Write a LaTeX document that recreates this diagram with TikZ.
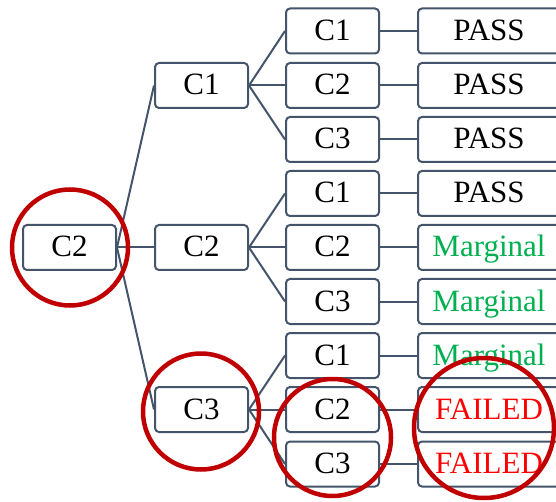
\documentclass[tikz,border=0pt]{standalone}
\usepackage{fontspec}
\setmainfont{Liberation Serif}
\definecolor{slate}{HTML}{44546A}
\definecolor{okgreen}{HTML}{00B050}
\definecolor{failred}{HTML}{FF0000}
\definecolor{ringred}{HTML}{C00000}
\begin{document}
\begin{tikzpicture}[x=1pt,y=-1pt,
  box/.style={draw=slate, line width=2pt, rounded corners=4pt, fill=white, inner sep=0pt,
    minimum width=93pt, minimum height=45pt, text height=22pt, text depth=3pt,
    font=\fontsize{31}{31}\selectfont},
  wide/.style={box, minimum width=142pt},
  link/.style={draw=slate, line width=2pt},
  ring/.style={draw=ringred, line width=4.5pt},
  good/.style={text=okgreen},
  bad/.style={text=failred}]
\useasboundingbox (0,0) rectangle (556,502);
% level 0
\node[box] (root) at (69.5,247.5) {C2};
% level 1
\node[box] (a1) at (201.5,85.5) {C1};
\node[box] (a2) at (201.5,247.5) {C2};
\node[box] (a3) at (201.5,409.5) {C3};
% level 2
\node[box] (b1) at (332.5,31) {C1};
\node[box] (b2) at (332.5,85.5) {C2};
\node[box] (b3) at (332.5,139.5) {C3};
\node[box] (b4) at (332.5,193.5) {C1};
\node[box] (b5) at (332.5,247.5) {C2};
\node[box] (b6) at (332.5,301.5) {C3};
\node[box] (b7) at (332.5,355.5) {C1};
\node[box] (b8) at (332.5,409.5) {C2};
\node[box] (b9) at (332.5,464) {C3};
% level 3
\node[wide] (c1) at (489,31) {PASS};
\node[wide] (c2) at (489,85.5) {PASS};
\node[wide] (c3) at (489,139.5) {PASS};
\node[wide] (c4) at (489,193.5) {PASS};
\node[wide,good] (c5) at (489,247.5) {Marginal};
\node[wide,good] (c6) at (489,301.5) {Marginal};
\node[wide,good] (c7) at (489,355.5) {Marginal};
\node[wide,bad] (c8) at (489,409.5) {FAILED};
\node[wide,bad] (c9) at (489,464) {FAILED};
% connectors
\foreach \i in {1,2,3} \draw[link] (root.east) -- (a\i.west);
\foreach \i in {1,2,3} \draw[link] (a1.east) -- (b\i.west);
\foreach \i in {4,5,6} \draw[link] (a2.east) -- (b\i.west);
\foreach \i in {7,8,9} \draw[link] (a3.east) -- (b\i.west);
\foreach \i in {1,...,9} \draw[link] (b\i.east) -- (c\i.west);
% highlight rings
\draw[ring] (70,247.5) circle[radius=58];
\draw[ring] (201,411.5) circle[radius=58];
\draw[ring] (332.5,437.5) circle[radius=58.5];
\draw[ring] (484,428) circle[radius=70];
\end{tikzpicture}
\end{document}
